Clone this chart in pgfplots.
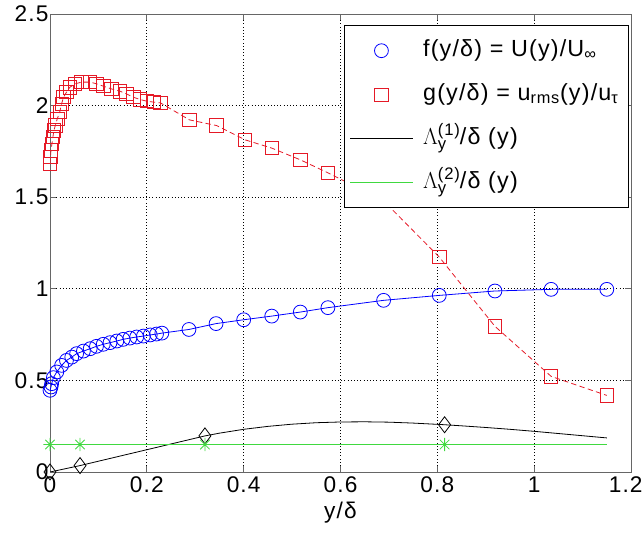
\documentclass[border=0pt]{standalone}
\usepackage{fontspec}
\setmainfont[LetterSpace=5]{Liberation Sans}
\usepackage{pgfplots}
\pgfplotsset{compat=1.18}
\definecolor{mgreen}{rgb}{0.25,0.85,0.25}
\definecolor{mred}{rgb}{0.9,0.1,0.15}
\newcommand{\tickfont}{\fontsize{17}{20}\selectfont}
\newcommand{\legfont}{\fontsize{17.5}{21}\selectfont}
\newcommand{\smallf}{\fontsize{12.5}{13}\selectfont}
\newcommand{\Lam}[1]{$\Lambda$\rlap{\raisebox{-3.8pt}{\smallf y}}\raisebox{7pt}{\smallf (#1)}}
\pgfdeclareplotmark{mstar}{%
  \pgfpathmoveto{\pgfqpoint{0pt}{\pgfplotmarksize}}\pgfpathlineto{\pgfqpoint{0pt}{-\pgfplotmarksize}}%
  \pgfpathmoveto{\pgfqpoint{\pgfplotmarksize}{0pt}}\pgfpathlineto{\pgfqpoint{-\pgfplotmarksize}{0pt}}%
  \pgfpathmoveto{\pgfqpoint{.707\pgfplotmarksize}{.707\pgfplotmarksize}}\pgfpathlineto{\pgfqpoint{-.707\pgfplotmarksize}{-.707\pgfplotmarksize}}%
  \pgfpathmoveto{\pgfqpoint{-.707\pgfplotmarksize}{.707\pgfplotmarksize}}\pgfpathlineto{\pgfqpoint{.707\pgfplotmarksize}{-.707\pgfplotmarksize}}%
  \pgfusepathqstroke}
\pgfplotsset{
  lineleg/.style={legend image code/.code={\draw[##1, mark=none] (0cm,0cm) -- (1.65cm,0cm);}},
  markleg/.style={legend image code/.code={\draw[##1, only marks] plot coordinates {(0.825cm,0cm)};}},
}

\begin{document}
\begin{tikzpicture}
\begin{axis}[
  scale only axis, width=435.75pt, height=343.5pt,
  xmin=0, xmax=1.2, ymin=0, ymax=2.5,
  xtick={0,0.2,0.4,0.6,0.8,1,1.2},
  xticklabels={0,0.2,0.4,0.6,0.8,1,1.2\hspace*{8pt}},
  ytick={0,0.5,1,1.5,2,2.5},
  grid=major, grid style={dotted, black, line width=0.6pt},
  tick align=inside, major tick length=4.5pt,
  axis line style={black!60, line width=0.7pt},
  tick style={black!60, line width=0.6pt},
  /pgf/number format/assume math mode=true,
  tick label style={font=\tickfont},
  yticklabel style={inner xsep=2pt, xshift=1pt},
  label style={font=\tickfont},
  xlabel={y/δ},
  every axis plot/.append style={line width=0.6pt},
  legend cell align=left,
  legend style={at={(0.995,0.975)}, anchor=north east, draw=black, fill=white,
    font=\legfont, row sep=9.5pt, inner xsep=4pt, inner ysep=7pt,
    nodes={text height=13pt, text depth=4.5pt, inner sep=3pt},
    /tikz/every odd column/.append style={column sep=4.5pt}},
]
% f(y/delta)
\addplot[blue, mark=o, mark size=5.2pt, mark options={solid, line width=0.6pt}, markleg]
coordinates {
(0,0.446)(0.002,0.464)(0.0034,0.482)(0.007,0.515)(0.014,0.546)(0.024,0.582)
(0.034,0.609)(0.045,0.627)(0.055,0.646)(0.069,0.66)(0.083,0.673)(0.096,0.686)
(0.11,0.697)(0.124,0.706)(0.138,0.715)(0.151,0.724)(0.165,0.731)(0.179,0.737)
(0.193,0.742)(0.207,0.748)(0.22,0.753)(0.231,0.758)(0.287,0.778)(0.343,0.81)
(0.40,0.831)(0.458,0.851)(0.517,0.873)(0.574,0.897)(0.689,0.937)(0.804,0.964)
(0.919,0.988)(1.035,0.997)(1.150,0.997)};
\addlegendentry{f(y/δ) = U(y)/U\textsubscript{∞}}
% g(y/delta)
\addplot[mred, dash pattern=on 4pt off 2.5pt, mark=square, mark size=5pt,
  mark options={solid, line width=0.6pt}, markleg]
coordinates {
(0,1.682)(0.001,1.719)(0.002,1.755)(0.004,1.792)(0.006,1.828)(0.008,1.864)
(0.011,1.891)(0.015,1.928)(0.02,1.964)(0.024,2.01)(0.028,2.046)(0.034,2.073)
(0.041,2.1)(0.052,2.119)(0.065,2.128)(0.083,2.128)(0.096,2.119)(0.11,2.106)
(0.127,2.091)(0.145,2.078)(0.158,2.064)(0.172,2.046)(0.186,2.033)(0.2,2.024)
(0.214,2.019)(0.228,2.015)(0.288,1.922)(0.344,1.891)(0.403,1.813)(0.458,1.768)
(0.517,1.704)(0.574,1.633)(0.689,1.48)(0.804,1.173)(0.919,0.795)(1.035,0.522)
(1.15,0.418)};
\addlegendentry{g(y/δ) = u\textsubscript{rms}(y)/u\textsubscript{τ}}
% Lambda 1
\addplot[black, mark=diamond, mark size=6pt, mark options={solid, line width=0.6pt},
  mark indices={1,2,3,13}, lineleg]
coordinates {
(0,0)(0.062,0.035)(0.32,0.197)(0.35,0.212)(0.4,0.233)(0.45,0.249)(0.5,0.261)
(0.55,0.269)(0.6,0.273)(0.65,0.274)(0.7,0.272)(0.75,0.267)(0.815,0.258)
(0.85,0.252)(0.9,0.243)(0.95,0.233)(1,0.222)(1.05,0.21)(1.1,0.198)(1.15,0.186)};
\addlegendentry{\Lam{1}/δ (y)}
% Lambda 2
\addplot[mgreen, mark=mstar, mark size=5pt, mark options={solid, line width=0.6pt},
  mark indices={1,2,3,4}, lineleg]
coordinates {(0,0.15)(0.062,0.15)(0.32,0.15)(0.815,0.15)(1.15,0.15)};
\addlegendentry{\Lam{2}/δ (y)}
\end{axis}
\pgfresetboundingbox
\path ([shift={(-37.5pt,-45.75pt)}]current axis.south west)
  rectangle ([shift={(9.75pt,10.5pt)}]current axis.north east);
\end{tikzpicture}
\end{document}
